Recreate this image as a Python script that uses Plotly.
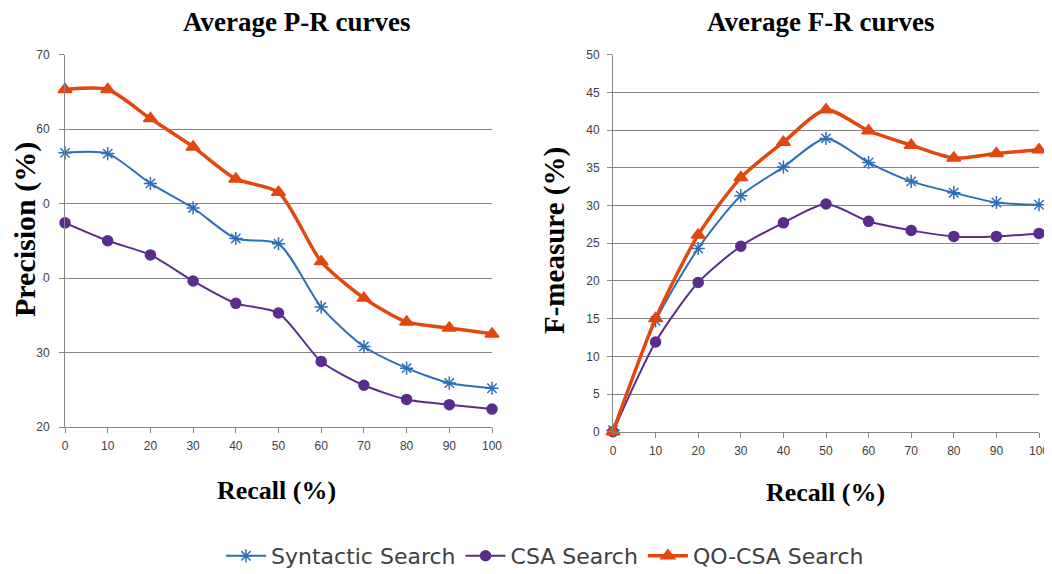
import plotly.graph_objects as go

recall = [0, 10, 20, 30, 40, 50, 60, 70, 80, 90, 100]

# Average P-R curves (precision %)
pr_syntactic = [56.8, 56.7, 52.7, 49.4, 45.3, 44.6, 36.1, 30.8, 27.9, 25.9, 25.2]
pr_csa = [47.4, 45.0, 43.1, 39.6, 36.6, 35.3, 28.8, 25.6, 23.7, 23.0, 22.4]
pr_qocsa = [65.3, 65.3, 61.4, 57.6, 53.3, 51.5, 42.2, 37.3, 34.1, 33.3, 32.5]

# Average F-R curves (F-measure %)
fr_syntactic = [0.2, 14.7, 24.3, 31.3, 35.1, 38.9, 35.7, 33.2, 31.7, 30.4, 30.1]
fr_csa = [0, 11.9, 19.8, 24.6, 27.7, 30.2, 27.9, 26.7, 25.9, 25.9, 26.3]
fr_qocsa = [0, 15.0, 26.1, 33.7, 38.4, 42.7, 39.9, 38.0, 36.3, 36.9, 37.4]

series_names = ["Syntactic Search", "CSA Search", "QO-CSA Search"]
colors = ["#2D6EBB", "#5A2C8C", "#E2470F"]
symbols = ["asterisk-open", "circle", "triangle-up"]
msizes = [11, 10, 12]
widths = [2, 2, 3.5]

fig = go.Figure()

pr_data = [pr_syntactic, pr_csa, pr_qocsa]
fr_data = [fr_syntactic, fr_csa, fr_qocsa]

for i in range(3):
    fig.add_trace(go.Scatter(
        x=recall, y=pr_data[i], name=series_names[i], mode="lines+markers",
        line=dict(color=colors[i], width=widths[i], shape="spline", smoothing=0.7),
        marker=dict(symbol=symbols[i], size=msizes[i], color=colors[i],
                    line=dict(color=colors[i], width=1.5)),
        xaxis="x", yaxis="y", cliponaxis=False, legendgroup=str(i), showlegend=True))
for i in range(3):
    fig.add_trace(go.Scatter(
        x=recall, y=fr_data[i], name=series_names[i], mode="lines+markers",
        line=dict(color=colors[i], width=widths[i], shape="spline", smoothing=0.7),
        marker=dict(symbol=symbols[i], size=msizes[i], color=colors[i],
                    line=dict(color=colors[i], width=1.5)),
        xaxis="x2", yaxis="y2", cliponaxis=False, legendgroup=str(i), showlegend=False))

W, H = 1052, 574
# the page body adds an 8px offset; place everything in screen pixels minus it
OX, OY = 8, 8
tickfont = dict(family="Liberation Sans, Arial, sans-serif", size=12, color="#404040")

def px(x):
    return (x - OX) / W

def py(y):
    return (H - (y - OY)) / H

def xax(d0, d1, anchor):
    return dict(domain=[px(d0), px(d1)], range=[0, 100], tickmode="array",
                tickvals=recall, ticktext=[str(v) for v in recall],
                showgrid=False, zeroline=False, showline=True, linecolor="#858585",
                linewidth=1, ticks="outside", ticklen=5, tickcolor="#858585",
                tickfont=tickfont, anchor=anchor, fixedrange=True, automargin=False,
                ticklabelstandoff=3)

def yax(top, bottom, rng, dtick, anchor, standoff):
    return dict(domain=[py(bottom), py(top)], range=rng, dtick=dtick,
                showgrid=True, gridcolor="#858585", gridwidth=1, zeroline=False,
                showline=True, linecolor="#858585", linewidth=1, ticks="outside",
                ticklen=5, tickcolor="#858585", tickfont=tickfont, anchor=anchor,
                fixedrange=True, automargin=False, ticklabelstandoff=standoff)

fig.update_layout(
    width=W, height=H,
    margin=dict(l=0, r=0, t=0, b=0, autoexpand=False),
    paper_bgcolor="white", plot_bgcolor="white",
    xaxis=xax(65, 492, "y"),
    yaxis=yax(54.5, 427, [20, 70], 10, "x", 7),
    xaxis2=xax(613, 1039, "y2"),
    yaxis2=yax(54.7, 431.7, [0, 50], 5, "x2", 5),
    showlegend=True,
    legend=dict(orientation="h", x=px(545), xanchor="center", y=py(556),
                yanchor="middle", font=dict(family="DejaVu Sans, sans-serif",
                                            size=22, color="#404040"),
                itemwidth=40, tracegroupgap=0, bgcolor="rgba(0,0,0,0)"),
)

serif = "Liberation Serif, Times New Roman, serif"
annots = [
    dict(text="<b>Average P-R curves</b>", x=296, y=22, size=27),
    dict(text="<b>Average F-R curves</b>", x=820, y=22, size=27),
    dict(text="<b>Recall (%)</b>", x=276, y=490, size=26),
    dict(text="<b>Recall (%)</b>", x=825, y=492, size=26),
]
for a in annots:
    fig.add_annotation(text=a["text"], x=px(a["x"]), y=py(a["y"]), xref="paper",
                       yref="paper", showarrow=False, xanchor="center", yanchor="middle",
                       font=dict(family=serif, size=a["size"], color="black"))

fig.add_annotation(text="<b>Precision (%)</b>", x=px(25), y=py(230), xref="paper",
                   yref="paper", showarrow=False, textangle=-90, xanchor="center",
                   yanchor="middle", font=dict(family=serif, size=30, color="black"),
                   bgcolor="white", borderpad=0)
fig.add_annotation(text="<b>F-measure (%)</b>", x=px(554), y=py(241), xref="paper",
                   yref="paper", showarrow=False, textangle=-90, xanchor="center",
                   yanchor="middle", font=dict(family=serif, size=29, color="black"))

fig.write_html("out.html")
